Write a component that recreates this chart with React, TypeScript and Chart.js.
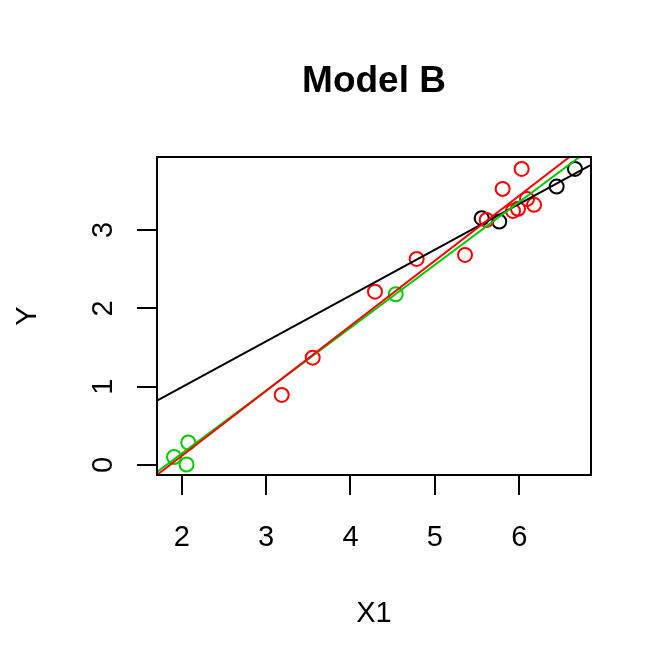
import React, { useEffect, useRef } from "react";
import { Chart, registerables } from "chart.js";

Chart.register(...registerables);

const TITLE = "Model B";
const X_LABEL = "X1";
const Y_LABEL = "Y";

const X_MIN = 1.707;
const X_MAX = 6.85;
const Y_MIN = -0.128;
const Y_MAX = 3.932;
const X_TICKS = [2, 3, 4, 5, 6];
const Y_TICKS = [0, 1, 2, 3];

const blackX = [5.555, 5.763, 6.443, 6.66];
const blackY = [3.151, 3.107, 3.554, 3.78];
const greenX = [1.909, 2.057, 2.078, 4.536];
const greenY = [0.102, 0.006, 0.287, 2.18];
const redX = [3.185, 3.552, 4.29, 4.784, 5.357, 5.614, 5.803, 5.926, 5.985, 6.028, 6.092, 6.175];
const redY = [0.894, 1.37, 2.213, 2.631, 2.682, 3.129, 3.525, 3.244, 3.27, 3.78, 3.397, 3.321];

// fitted lines: [intercept, slope]
const blackFit = [-0.176, 0.585];
const greenFit = [-1.462, 0.8035];
const redFit = [-1.545, 0.8306];

const BLACK = "#000000";
const GREEN = "#00CD00";
const RED = "#FF0000";
const FONT = '"Liberation Sans", Arial, Helvetica, sans-serif';

const pts = (xs: number[], ys: number[]) => xs.map((x, i) => ({ x, y: ys[i] }));
const fitLine = (c: number[]) => [
  { x: X_MIN - 0.2, y: c[0] + c[1] * (X_MIN - 0.2) },
  { x: X_MAX + 0.2, y: c[0] + c[1] * (X_MAX + 0.2) },
];

const textPlugin = {
  id: "rtext",
  afterDraw(chart: any) {
    const { ctx, chartArea, scales } = chart;
    const { left, right, top, bottom } = chartArea;
    ctx.save();
    ctx.strokeStyle = "#000";
    ctx.lineWidth = 2;
    ctx.strokeRect(left, top, right - left, bottom - top);
    ctx.fillStyle = "#000";
    const cx = (left + right) / 2;
    const cy = (top + bottom) / 2;
    ctx.font = `bold 37px ${FONT}`;
    ctx.textAlign = "center";
    ctx.textBaseline = "alphabetic";
    ctx.fillText(TITLE, cx, 92);
    ctx.font = `29px ${FONT}`;
    X_TICKS.forEach((v) => {
      ctx.fillText(String(v), scales.x.getPixelForValue(v), 546);
    });
    ctx.fillText(X_LABEL, cx, 622);
    Y_TICKS.forEach((v) => {
      ctx.save();
      ctx.translate(111.7, scales.y.getPixelForValue(v));
      ctx.rotate(-Math.PI / 2);
      ctx.fillText(String(v), 0, 0);
      ctx.restore();
    });
    ctx.save();
    ctx.translate(36, cy);
    ctx.rotate(-Math.PI / 2);
    ctx.fillText(Y_LABEL, 0, 0);
    ctx.restore();
    ctx.restore();
  },
};

export default function App() {
  const ref = useRef<HTMLCanvasElement | null>(null);
  useEffect(() => {
    if (!ref.current) return;
    const axisCommon = {
      type: "linear" as const,
      grid: {
        display: true,
        drawOnChartArea: false,
        drawTicks: true,
        tickLength: 20,
        color: "#000",
        lineWidth: 2,
      },
      border: { display: true, color: "#000", width: 2 },
    };
    const chart = new Chart(ref.current, {
      type: "scatter",
      data: {
        datasets: [
          { type: "line", data: fitLine(redFit), borderColor: RED, borderWidth: 2, pointRadius: 0, order: 0, fill: false },
          { type: "line", data: fitLine(greenFit), borderColor: GREEN, borderWidth: 2, pointRadius: 0, order: 1, fill: false },
          { type: "line", data: fitLine(blackFit), borderColor: BLACK, borderWidth: 2, pointRadius: 0, order: 2, fill: false },
          { data: pts(redX, redY), borderColor: RED, backgroundColor: "rgba(0,0,0,0)", pointRadius: 7, borderWidth: 2, order: 3 },
          { data: pts(greenX, greenY), borderColor: GREEN, backgroundColor: "rgba(0,0,0,0)", pointRadius: 7, borderWidth: 2, order: 4 },
          { data: pts(blackX, blackY), borderColor: BLACK, backgroundColor: "rgba(0,0,0,0)", pointRadius: 7, borderWidth: 2, order: 5 },
        ] as any,
      },
      options: {
        animation: false,
        responsive: false,
        events: [],
        layout: { padding: { top: 157, right: 81, left: 0, bottom: 0 } },
        plugins: { legend: { display: false }, tooltip: { enabled: false }, title: { display: false } },
        scales: {
          x: {
            ...axisCommon,
            position: "bottom",
            min: X_MIN,
            max: X_MAX,
            ticks: { display: false, stepSize: 1, includeBounds: false },
            afterFit: (s: any) => { s.height = 197; },
          },
          y: {
            ...axisCommon,
            position: "left",
            min: Y_MIN,
            max: Y_MAX,
            ticks: { display: false, stepSize: 1, includeBounds: false },
            afterFit: (s: any) => { s.width = 157; },
          },
        },
      } as any,
      plugins: [textPlugin],
    });
    return () => chart.destroy();
  }, []);
  return (
    <div style={{ position: "fixed", left: 0, top: 0, width: 672, height: 672, background: "#fff" }}>
      <canvas ref={ref} width={672} height={672} style={{ display: "block" }} />
    </div>
  );
}
